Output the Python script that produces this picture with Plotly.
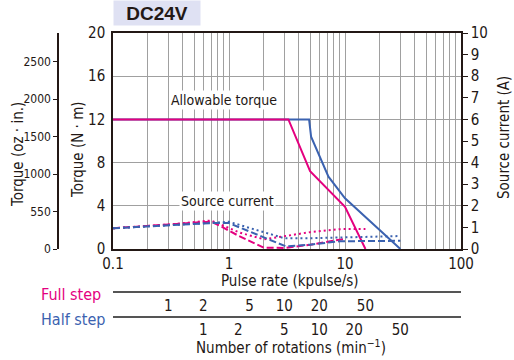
import plotly.graph_objects as go

# Torque curves (N·m) vs pulse rate (kpulse/s)
full_torque_x = [0.1, 3.25, 5.0, 10.0, 15.0]
full_torque_y = [12, 12, 7.2, 3.9, 0]
half_torque_x = [0.1, 4.9, 5.1, 7.2, 10.0, 30.0]
half_torque_y = [12, 12, 10.4, 6.7, 4.7, 0]

# Source current curves (A)
full_dash_x = [0.1, 0.3, 0.7, 0.85, 1.2, 2.0, 3.0, 5.0, 8.0, 10.0]
full_dash_y = [0.96, 1.12, 1.27, 1.05, 0.62, 0.06, 0.05, 0.2, 0.38, 0.47]
full_dot_x = [0.1, 0.3, 0.7, 0.85, 1.25, 2.0, 3.0, 5.0, 9.0, 15.0]
full_dot_y = [0.96, 1.13, 1.32, 1.12, 0.75, 0.45, 0.6, 0.78, 0.92, 0.93]
half_dash_x = [0.1, 0.3, 0.7, 1.0, 1.8, 3.1, 5.0, 9.0, 30.0]
half_dash_y = [0.96, 1.1, 1.2, 1.2, 0.65, 0.12, 0.2, 0.36, 0.38]
half_dot_x = [0.1, 0.3, 0.7, 1.0, 1.8, 3.0, 5.0, 10.0, 30.0]
half_dot_y = [0.96, 1.1, 1.24, 1.26, 0.85, 0.5, 0.5, 0.55, 0.6]

# Tick labels
pulse_ticks = [0.1, 0.2, 0.3, 0.4, 0.5, 0.6, 0.7, 0.8, 0.9,
               1, 2, 3, 4, 5, 6, 7, 8, 9,
               10, 20, 30, 40, 50, 60, 70, 80, 90, 100]
pulse_labels = {0.1: '0.1', 1: '1', 10: '10', 100: '100'}
rot_labels = [1, 2, 5, 10, 20, 50]
full_step_factor = 0.3   # kpulse/s per min^-1 label
half_step_factor = 0.6
torque_nm_ticks = [0, 4, 8, 12, 16, 20]
torque_oz_ticks = [0, 500, 1000, 1500, 2000, 2500]
torque_oz_labels = ['0', '550', '1000', '1500', '2000', '2500']

MAGENTA = '#e4007f'
BLUE = '#3b62b0'
INK = '#231815'
GRID = '#a0a0a0'
FONT = 'Liberation Sans Narrow, DejaVu Sans Condensed, Arial Narrow, sans-serif'

fig = go.Figure()

# current curves on right axis
for xs, ys, col, dash in [
    (full_dash_x, full_dash_y, MAGENTA, '7px,3px'),
    (full_dot_x, full_dot_y, MAGENTA, '2px,3px'),
    (half_dash_x, half_dash_y, BLUE, '7px,3px'),
    (half_dot_x, half_dot_y, BLUE, '2px,3px'),
]:
    fig.add_trace(go.Scatter(x=xs, y=ys, mode='lines', yaxis='y2',
                             line=dict(color=col, width=2, dash=dash),
                             hoverinfo='skip', showlegend=False))

# torque curves
fig.add_trace(go.Scatter(x=half_torque_x, y=half_torque_y, mode='lines',
                         line=dict(color=BLUE, width=2), showlegend=False))
fig.add_trace(go.Scatter(x=full_torque_x, y=full_torque_y, mode='lines',
                         line=dict(color=MAGENTA, width=2), showlegend=False))

# dummy traces so the extra axes get drawn
fig.add_trace(go.Scatter(x=[1], y=[-50], xaxis='x2', mode='markers',
                         marker=dict(opacity=0), showlegend=False, hoverinfo='skip'))
fig.add_trace(go.Scatter(x=[1], y=[-50], xaxis='x3', mode='markers',
                         marker=dict(opacity=0), showlegend=False, hoverinfo='skip'))
fig.add_trace(go.Scatter(x=[1], y=[-5000], yaxis='y3', mode='markers',
                         marker=dict(opacity=0), showlegend=False, hoverinfo='skip'))

x_dom = [0.2085, 0.9130]
y_dom = [0.3072, 0.9333]
tick_font = dict(family=FONT, size=15, color=INK)

fig.update_layout(
    width=514, height=360,
    margin=dict(l=10, r=10, t=10, b=5),
    paper_bgcolor='white', plot_bgcolor='white',
    font=dict(family=FONT, color=INK),
    xaxis=dict(type='log', range=[-1, 2], domain=x_dom, automargin=False,
               tickvals=pulse_ticks,
               ticktext=[pulse_labels.get(v, '') for v in pulse_ticks],
               showgrid=True, gridcolor=GRID, gridwidth=1,
               showline=True, linecolor=INK, linewidth=1.5, mirror=True,
               ticks='', tickfont=tick_font, zeroline=False),
    xaxis2=dict(type='log', range=[-1, 2], domain=x_dom, overlaying='x',
                anchor='free', position=0.1812, automargin=False,
                tickvals=[full_step_factor * v for v in rot_labels],
                ticktext=[str(v) for v in rot_labels],
                showgrid=False, showline=True, linecolor='#555', linewidth=1.5,
                ticks='', tickfont=tick_font),
    xaxis3=dict(type='log', range=[-1, 2], domain=x_dom, overlaying='x',
                anchor='free', position=0.111, automargin=False,
                tickvals=[half_step_factor * v for v in rot_labels],
                ticktext=[str(v) for v in rot_labels],
                showgrid=False, showline=True, linecolor='#555', linewidth=1.5,
                ticks='', tickfont=tick_font),
    yaxis=dict(range=[0, 20], domain=y_dom, tickvals=torque_nm_ticks,
               automargin=False,
               showgrid=True, gridcolor=GRID, gridwidth=1,
               showline=True, linecolor=INK, linewidth=1.5,
               ticks='outside', ticklen=3, tickcolor='rgba(0,0,0,0)',
               tickfont=tick_font, zeroline=False),
    yaxis2=dict(range=[0, 10], domain=y_dom, overlaying='y', side='right',
                anchor='x', dtick=1, showgrid=False, automargin=False,
                showline=True, linecolor=INK, linewidth=1.5,
                ticks='outside', ticklen=5, tickcolor=INK,
                tickfont=tick_font, zeroline=False),
    yaxis3=dict(range=[0, 2880], domain=y_dom, overlaying='y', side='left',
                anchor='free', position=0.0972, automargin=False,
                tickvals=torque_oz_ticks, ticktext=torque_oz_labels,
                showgrid=False, showline=True, linecolor=INK, linewidth=1.5,
                ticks='outside', ticklen=4, tickcolor=INK,
                tickfont=dict(family=FONT, size=12, color=INK), zeroline=False),
)

title_font = dict(family=FONT, size=15, color=INK)
annotations = [
    dict(text='<b>DC24V</b>', x=157, y=13, font=dict(family='Liberation Sans, Arial, sans-serif',
         size=19, color=INK), bgcolor='#dfe1f3', width=84, height=22),
    dict(text='Allowable torque', x=224, y=100, font=dict(family=FONT, size=14, color=INK),
         bgcolor='white', borderpad=1),
    dict(text='Source current', x=227, y=201, font=dict(family=FONT, size=14, color=INK),
         bgcolor='white', borderpad=1),
    dict(text='Pulse rate (kpulse/s)', x=290, y=281, font=title_font),
    dict(text='Number of rotations (min<sup>−1</sup>)', x=291, y=347, font=title_font),
    dict(text='Full step', x=71, y=294, font=dict(family=FONT, size=16, color=MAGENTA)),
    dict(text='Half step', x=73, y=319, font=dict(family=FONT, size=16, color=BLUE)),
    dict(text='Torque (oz · in.)', x=18, y=155, textangle=-90, font=title_font),
    dict(text='Torque (N · m)', x=78, y=150, textangle=-90, font=title_font),
    dict(text='Source current (A)', x=504, y=138, textangle=-90, font=title_font),
]
for a in annotations:
    px, py = a.pop('x'), a.pop('y')
    fig.add_annotation(xref='paper', yref='paper',
                       x=(px - 10) / 494, y=(355 - py) / 345,
                       xanchor='center', yanchor='middle', showarrow=False, **a)

# drop the browser's default body margin so the figure sits at the page corner
fig.write_html('out.html', config={'displayModeBar': False},
               post_script="document.body.style.margin = '0';")
